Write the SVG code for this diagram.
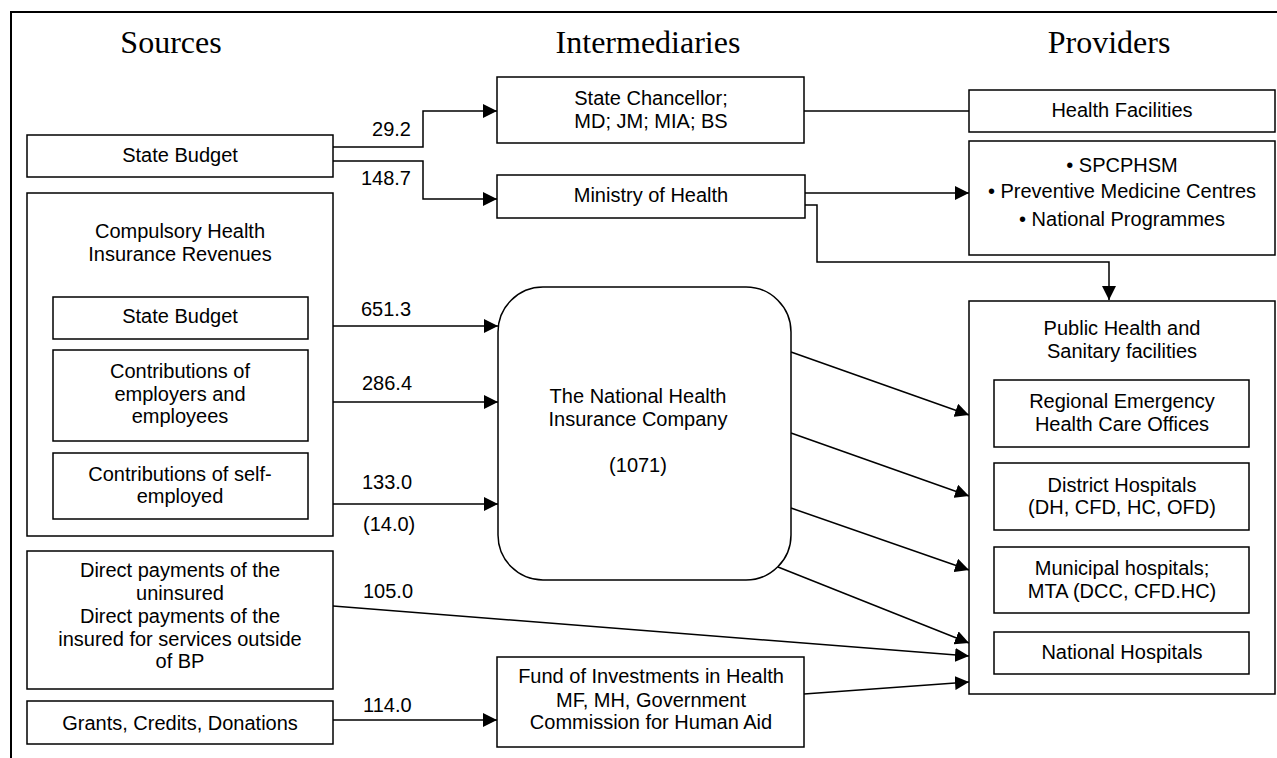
<svg xmlns="http://www.w3.org/2000/svg" width="1277" height="758" viewBox="0 0 1277 758">
<defs>
<style>
.box{fill:#fff;stroke:#000;stroke-width:1.5}
.t{font-family:"Liberation Sans",Arial,sans-serif;font-size:20px;fill:#000;text-anchor:middle}
.lab{font-family:"Liberation Sans",Arial,sans-serif;font-size:20px;fill:#000}
.h{font-family:"Liberation Serif","Times New Roman",serif;font-size:32px;fill:#000;text-anchor:middle}
.c{fill:none;stroke:#000;stroke-width:1.5}
</style>
<marker id="arr" markerUnits="userSpaceOnUse" markerWidth="15" markerHeight="14" refX="14" refY="7" orient="auto">
<path d="M0,0 L14,7 L0,14 z" fill="#000"/>
</marker>
</defs>
<rect width="1277" height="758" fill="#fff"/>
<g id="frame">
<path d="M11,758 V12 H1277" fill="none" stroke="#000" stroke-width="2"/>
</g>
<g id="headers">
<text class="h" x="171" y="53">Sources</text>
<text class="h" x="648" y="53">Intermediaries</text>
<text class="h" x="1109" y="53">Providers</text>
</g>
<g id="connectors">
<path class="c" d="M333,147 H423 V111 H497" marker-end="url(#arr)"/>
<path class="c" d="M333,161 H423 V199 H497" marker-end="url(#arr)"/>
<path class="c" d="M804,111 H969"/>
<path class="c" d="M805,193 H969" marker-end="url(#arr)"/>
<path class="c" d="M805,205 H817 V262 H1109 V300" marker-end="url(#arr)"/>
<path class="c" d="M333,326 H498" marker-end="url(#arr)"/>
<path class="c" d="M333,402 H498" marker-end="url(#arr)"/>
<path class="c" d="M333,504 H498" marker-end="url(#arr)"/>
<path class="c" d="M791,352 L969,415" marker-end="url(#arr)"/>
<path class="c" d="M791,433 L969,496" marker-end="url(#arr)"/>
<path class="c" d="M791,508 L969,570" marker-end="url(#arr)"/>
<path class="c" d="M778,567 L969,643" marker-end="url(#arr)"/>
<path class="c" d="M333,606 L969,656" marker-end="url(#arr)"/>
<path class="c" d="M804,694 L969,682" marker-end="url(#arr)"/>
<path class="c" d="M333,720 H497" marker-end="url(#arr)"/>
<text class="lab" x="411" y="136" text-anchor="end">29.2</text>
<text class="lab" x="411" y="185" text-anchor="end">148.7</text>
<text class="lab" x="361" y="316">651.3</text>
<text class="lab" x="362" y="390">286.4</text>
<text class="lab" x="362" y="489">133.0</text>
<text class="lab" x="363" y="531">(14.0)</text>
<text class="lab" x="363" y="598">105.0</text>
<text class="lab" x="363" y="712">114.0</text>
</g>
<g id="state-budget">
<rect class="box" x="27" y="135" width="306" height="42"/>
<text class="t" x="180" y="162">State Budget</text>
</g>
<g id="chi-revenues">
<rect class="box" x="27" y="193" width="306" height="343"/>
<text class="t" x="180" y="238">Compulsory Health</text>
<text class="t" x="180" y="261">Insurance Revenues</text>
</g>
<g id="chi-state-budget">
<rect class="box" x="53" y="297" width="255" height="42"/>
<text class="t" x="180" y="323">State Budget</text>
</g>
<g id="chi-employers">
<rect class="box" x="53" y="350" width="255" height="91"/>
<text class="t" x="180" y="378">Contributions of</text>
<text class="t" x="180" y="401">employers and</text>
<text class="t" x="180" y="423">employees</text>
</g>
<g id="chi-self">
<rect class="box" x="53" y="453" width="255" height="66"/>
<text class="t" x="180" y="481">Contributions of self-</text>
<text class="t" x="180" y="503">employed</text>
</g>
<g id="direct-payments">
<rect class="box" x="27" y="551" width="306" height="138"/>
<text class="t" x="180" y="577">Direct payments of the</text>
<text class="t" x="180" y="600">uninsured</text>
<text class="t" x="180" y="623">Direct payments of the</text>
<text class="t" x="180" y="646">insured for services outside</text>
<text class="t" x="180" y="668">of BP</text>
</g>
<g id="grants">
<rect class="box" x="27" y="701" width="306" height="43"/>
<text class="t" x="180" y="730">Grants, Credits, Donations</text>
</g>
<g id="state-chancellor">
<rect class="box" x="497" y="77" width="307" height="66"/>
<text class="t" x="651" y="105">State Chancellor;</text>
<text class="t" x="651" y="128">MD; JM; MIA; BS</text>
</g>
<g id="ministry-health">
<rect class="box" x="497" y="175" width="308" height="43"/>
<text class="t" x="651" y="202">Ministry of Health</text>
</g>
<g id="nhic">
<rect class="box" x="498" y="287" width="293" height="293" rx="45" ry="45"/>
<text class="t" x="638" y="403">The National Health</text>
<text class="t" x="638" y="426">Insurance Company</text>
<text class="t" x="638" y="472">(1071)</text>
</g>
<g id="fund">
<rect class="box" x="497" y="657" width="307" height="90"/>
<text class="t" x="651" y="683">Fund of Investments in Health</text>
<text class="t" x="651" y="707">MF, MH, Government</text>
<text class="t" x="651" y="729">Commission for Human Aid</text>
</g>
<g id="health-facilities">
<rect class="box" x="969" y="90" width="306" height="42"/>
<text class="t" x="1122" y="117">Health Facilities</text>
</g>
<g id="spcphsm">
<rect class="box" x="969" y="141" width="306" height="114"/>
<text class="t" x="1122" y="172">• SPCPHSM</text>
<text class="t" x="1122" y="198">• Preventive Medicine Centres</text>
<text class="t" x="1122" y="226">• National Programmes</text>
</g>
<g id="public-health">
<rect class="box" x="969" y="301" width="306" height="393"/>
<text class="t" x="1122" y="335">Public Health and</text>
<text class="t" x="1122" y="358">Sanitary facilities</text>
</g>
<g id="regional-emergency">
<rect class="box" x="994" y="380" width="255" height="67"/>
<text class="t" x="1122" y="408">Regional Emergency</text>
<text class="t" x="1122" y="431">Health Care Offices</text>
</g>
<g id="district-hospitals">
<rect class="box" x="994" y="463" width="255" height="67"/>
<text class="t" x="1122" y="492">District Hospitals</text>
<text class="t" x="1122" y="514">(DH, CFD, HC, OFD)</text>
</g>
<g id="municipal-hospitals">
<rect class="box" x="994" y="547" width="255" height="66"/>
<text class="t" x="1122" y="575">Municipal hospitals;</text>
<text class="t" x="1122" y="598">MTA (DCC, CFD.HC)</text>
</g>
<g id="national-hospitals">
<rect class="box" x="994" y="632" width="255" height="42"/>
<text class="t" x="1122" y="659">National Hospitals</text>
</g>
</svg>
